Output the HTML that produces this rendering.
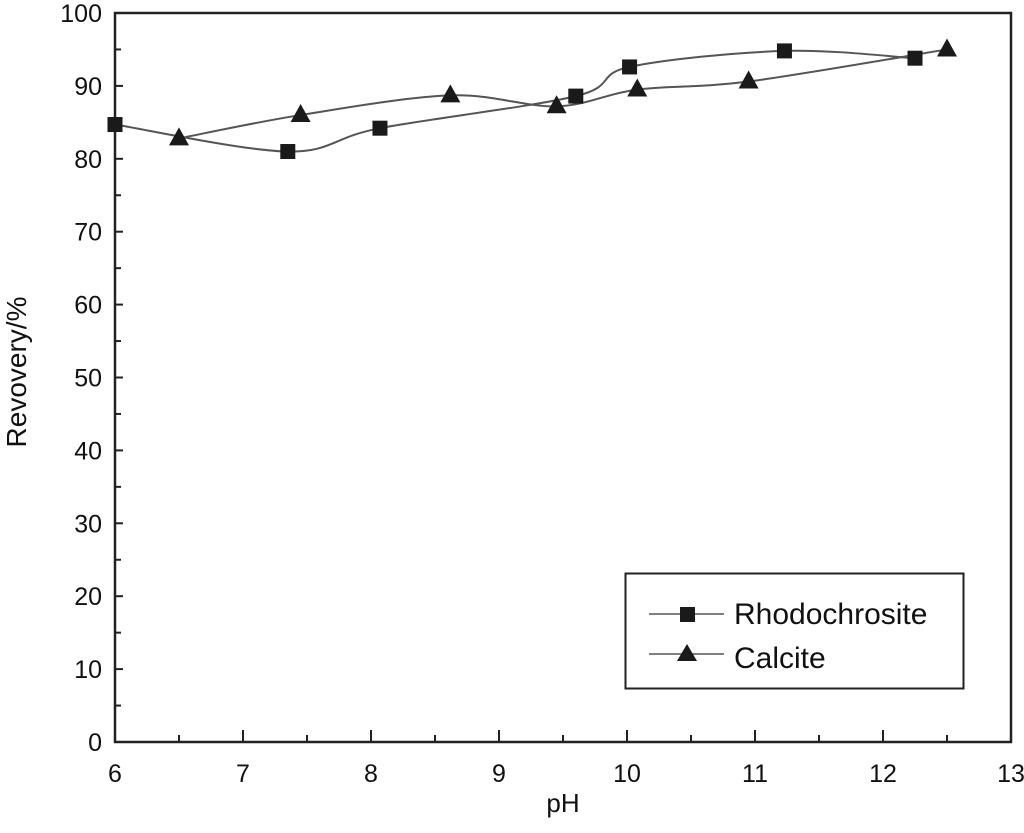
<!DOCTYPE html>
<html><head><meta charset="utf-8"><style>
html,body{margin:0;padding:0;background:#fff}
svg text{font-family:"Liberation Sans",Arial,sans-serif;fill:#111}
</style></head><body>
<svg id="chart" width="1024" height="828" xmlns="http://www.w3.org/2000/svg">
<g id="axes"></g>
<g id="series"></g>
<text x="563" y="812" font-size="26" text-anchor="middle">pH</text>
<text transform="translate(26,372) rotate(-90)" font-size="28" text-anchor="middle">Revovery/%</text>
<g>
<rect x="625.5" y="573.5" width="338" height="115" fill="#fff" stroke="#222" stroke-width="2"/>
<g>
<line x1="649" y1="614" x2="724" y2="614" stroke="#555" stroke-width="1.5"/>
<rect x="680" y="607" width="15" height="15" fill="#1a1a1a"/>
<text x="734" y="624" font-size="30">Rhodochrosite</text></g>
<g>
<line x1="649" y1="654" x2="724" y2="654" stroke="#555" stroke-width="1.5"/>
<polygon points="687,644 697,661 677,661" fill="#1a1a1a"/>
<text x="734" y="668" font-size="30">Calcite</text></g>
</g>
</svg>
<script>
const xTicks=[6,7,8,9,10,11,12,13];
const yTicks=[0,10,20,30,40,50,60,70,80,90,100];
const rhoX=[6.0,7.35,8.07,9.6,10.02,11.23,12.25];
const rhoY=[84.7,81.0,84.2,88.6,92.6,94.8,93.8];
const calX=[6.5,7.45,8.62,9.45,10.08,10.95,12.5];
const calY=[82.8,86.0,88.7,87.2,89.5,90.6,95.0];
const X0=115,X1=1011,Y0=742,Y1=13;
const sx=v=>X0+(v-6)/7*(X1-X0);
const sy=v=>Y0-v/100*(Y0-Y1);
const NS="http://www.w3.org/2000/svg";
const axes=document.getElementById('axes'),ser=document.getElementById('series');
function mk(tag,attrs,parent){const e=document.createElementNS(NS,tag);for(const k in attrs)e.setAttribute(k,attrs[k]);parent.appendChild(e);return e;}
const frame=mk('rect',{x:X0,y:Y1,width:X1-X0,height:Y0-Y1,fill:'none',stroke:'#222','stroke-width':2.5},axes);


xTicks.forEach(t=>{
  const l=mk('line',{x1:sx(t),x2:sx(t),y1:Y0,y2:Y0-12,stroke:'#222','stroke-width':2},axes);
  
  
  if(t<13){const m=mk('line',{x1:sx(t+0.5),x2:sx(t+0.5),y1:Y0,y2:Y0-7,stroke:'#222','stroke-width':2},axes);
  
  }
  const tx=mk('text',{x:sx(t),y:Y0+40,'font-size':25,'text-anchor':'middle'},axes);tx.textContent=t;
  
  
});
yTicks.forEach(t=>{
  const l=mk('line',{x1:X0,x2:X0+8,y1:sy(t),y2:sy(t),stroke:'#222','stroke-width':2},axes);
  
  
  if(t<100){const m=mk('line',{x1:X0,x2:X0+6,y1:sy(t+5),y2:sy(t+5),stroke:'#222','stroke-width':2},axes);
  
  }
  const tx=mk('text',{x:X0-13,y:sy(t)+9,'font-size':25,'text-anchor':'end'},axes);tx.textContent=t;
  
  
});
function spline(xs,ys){
  const p=xs.map((x,i)=>[sx(x),sy(ys[i])]);
  let d='M'+p[0][0]+','+p[0][1];
  for(let i=0;i<p.length-1;i++){
    const p0=p[i-1]||p[i],p1=p[i],p2=p[i+1],p3=p[i+2]||p2;
    d+=' C'+(p1[0]+(p2[0]-p0[0])/6)+','+(p1[1]+(p2[1]-p0[1])/6)+' '+(p2[0]-(p3[0]-p1[0])/6)+','+(p2[1]-(p3[1]-p1[1])/6)+' '+p2[0]+','+p2[1];
  }
  return d;
}
const lr=mk('path',{d:spline(rhoX,rhoY),fill:'none',stroke:'#555','stroke-width':2},ser);


const lc=mk('path',{d:spline(calX,calY),fill:'none',stroke:'#555','stroke-width':2},ser);


rhoX.forEach((x,i)=>{
  const r=mk('rect',{x:sx(x)-7.5,y:sy(rhoY[i])-7.5,width:15,height:15,fill:'#1a1a1a'},ser);
  
  
});
calX.forEach((x,i)=>{
  const cx=sx(x),cy=sy(calY[i]);
  const t=mk('polygon',{points:`${cx},${cy-11} ${cx+10},${cy+7} ${cx-10},${cy+7}`,fill:'#1a1a1a'},ser);
  
  
});
</script>
</body></html>
